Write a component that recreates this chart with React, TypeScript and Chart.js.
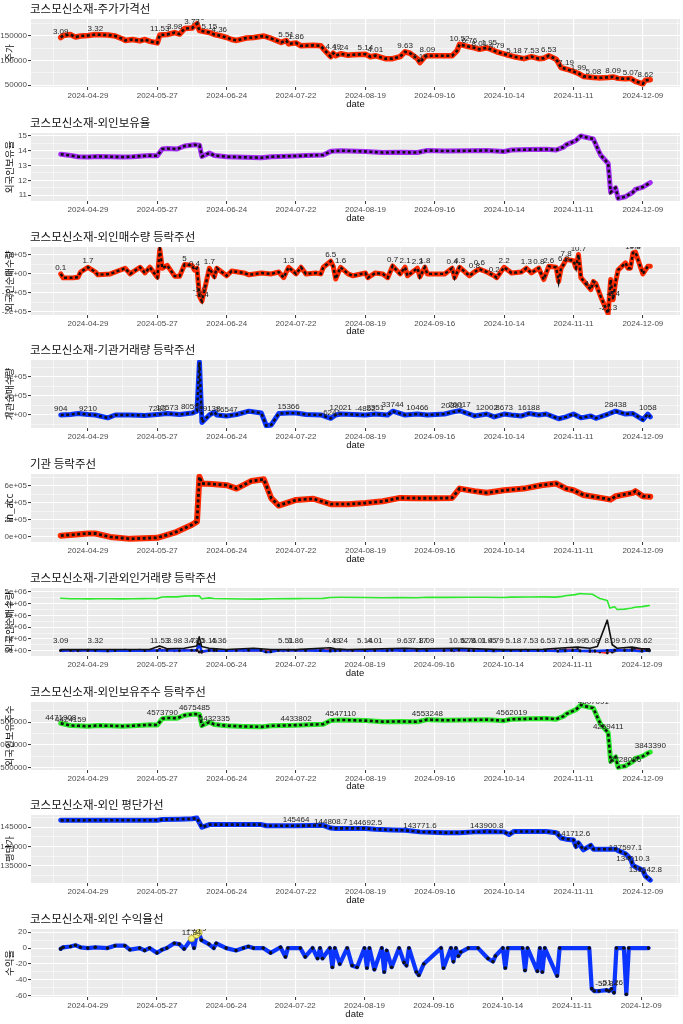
import React, { useEffect, useRef } from 'react';
import { Chart, registerables } from 'chart.js';

Chart.register(...registerables);

const FONT = '"Liberation Sans", "Noto Sans CJK KR", sans-serif';
const KFONT = '"Noto Sans CJK KR", "Liberation Sans", sans-serif';

// ---------- shared x axis ----------
const xTickLabels = ['2024-04-29', '2024-05-27', '2024-06-24', '2024-07-22', '2024-08-19', '2024-09-16', '2024-10-14', '2024-11-11', '2024-12-09'];

// ---------- panel 1: price ----------
const priceDates = [
  '04-18', '04-19', '04-22', '04-23', '04-24', '04-26', '04-29', '05-02', '05-07', '05-10',
  '05-13', '05-14', '05-17', '05-20', '05-22', '05-24', '05-27', '05-28', '05-31', '06-03',
  '06-05', '06-07', '06-10', '06-12', '06-13', '06-14', '06-17', '06-19', '06-21', '06-24',
  '06-26', '06-28', '07-02', '07-05', '07-09', '07-12', '07-16', '07-18', '07-19', '07-22',
  '07-24', '07-29', '08-01', '08-02', '08-05', '08-06', '08-07', '08-09', '08-12', '08-14',
  '08-19', '08-21', '08-23', '08-27', '08-30', '09-02', '09-04', '09-06', '09-09', '09-10',
  '09-12', '09-13', '09-19', '09-23', '09-24', '09-25', '09-26', '09-30', '10-02', '10-04',
  '10-07', '10-08', '10-11', '10-15', '10-18', '10-22', '10-25', '10-28', '10-30', '11-01',
  '11-04', '11-06', '11-08', '11-11', '11-13', '11-15', '11-19', '11-21', '11-25', '11-27',
  '11-29', '12-02', '12-04', '12-06', '12-09', '12-10', '12-12',
];
const priceValues = [
  147000, 151000, 153000, 150000, 148000, 150000, 151000, 153000, 152000, 150000,
  144000, 141000, 143000, 140000, 143000, 139000, 136000, 152000, 153000, 157000,
  154000, 165000, 166000, 175000, 161000, 160000, 157000, 153000, 151000, 147000,
  143000, 141000, 146000, 147000, 150000, 145000, 137000, 141000, 134000, 136000,
  130000, 131000, 130000, 124000, 108000, 115000, 110000, 114000, 111000, 112000,
  113000, 108000, 110000, 104000, 104000, 108000, 118000, 115000, 104000, 96000,
  108000, 110000, 110000, 110000, 115000, 120000, 133000, 128000, 126000, 123000,
  126000, 124000, 118000, 112000, 108000, 104000, 108000, 104000, 105000, 110000,
  103000, 86000, 83000, 78000, 74000, 68000, 66000, 65000, 66000, 67000,
  64000, 63000, 64000, 58000, 53000, 60000, 61000,
];
const priceLabelDates = ['04-18', '05-02', '05-28', '06-03', '06-10', '06-12', '06-17', '06-21', '07-18', '07-22', '08-06', '08-09', '08-19', '08-23', '09-04', '09-10', '09-13', '09-26', '09-30', '10-04', '10-08', '10-11', '10-18', '10-25', '11-01', '11-08', '11-13', '11-19', '11-27', '12-04', '12-10'];
const priceLabelTexts = ['3.09', '3.32', '11.53', '3.98', '3.73', '4.40', '5.15', '4.36', '5.51', '1.86', '4.49', '1.24', '5.14', '4.01', '9.63', '7.17', '8.09', '10.52', '6.76', '8.01', '1.95', '4.79', '5.18', '7.53', '6.53', '7.19', '1.99', '5.08', '8.09', '5.07', '8.62'];

// ---------- panel 2 & 7: foreign holdings ----------
const holdDates = [
  '04-18', '04-22', '04-25', '04-29', '05-03', '05-08', '05-13', '05-17', '05-21', '05-24',
  '05-27', '05-29', '05-31', '06-04', '06-07', '06-11', '06-13', '06-14', '06-17', '06-19',
  '06-24', '07-01', '07-08', '07-12', '07-22', '07-26', '08-02', '08-05', '08-09', '08-19',
  '08-26', '09-02', '09-09', '09-13', '09-20', '09-30', '10-07', '10-14', '10-17', '10-24',
  '10-31', '11-04', '11-07', '11-08', '11-12', '11-14', '11-15', '11-19', '11-21', '11-22',
  '11-25', '11-26', '11-27', '11-28', '11-29', '12-02', '12-03', '12-05', '12-06', '12-09',
  '12-11', '12-12',
];
const holdRatio = [
  13.77, 13.68, 13.6, 13.58, 13.62, 13.6, 13.58, 13.6, 13.65, 13.68,
  13.66, 14.12, 14.15, 14.12, 14.32, 14.4, 14.38, 13.62, 13.85, 13.68,
  13.6, 13.56, 13.53, 13.6, 13.65, 13.68, 13.72, 13.96, 14.0, 13.95,
  13.88, 13.9, 13.88, 14.02, 13.98, 14.0, 14.02, 13.95, 14.05, 14.08,
  14.1, 14.05, 14.25, 14.4, 14.7, 15.0, 14.95, 14.8, 14.05, 13.7,
  13.14, 11.2, 11.35, 11.5, 10.8, 10.9, 11.0, 11.2, 11.4, 11.55,
  11.75, 11.85,
];
const holdShares = [
  4471908, 4424159, 4418000, 4410000, 4424000, 4418000, 4410000, 4418000, 4432000, 4440000,
  4437000, 4573790, 4590000, 4585000, 4650000, 4675485, 4668000, 4423000, 4500000, 4445000,
  4420000, 4404000, 4395000, 4418000, 4433000, 4440000, 4455000, 4535000, 4547000, 4532000,
  4509000, 4515000, 4508000, 4553000, 4540000, 4547000, 4553000, 4531000, 4562000, 4572000,
  4580000, 4563000, 4628000, 4675000, 4773000, 4872000, 4856000, 4807091, 4562000, 4450000,
  4269411, 3640000, 3686000, 3735000, 3510000, 3540000, 3573000, 3640000, 3703000, 3752000,
  3817000, 3843390,
];
const sharesLabelDates = ['04-18', '04-22', '05-29', '06-11', '06-19', '07-22', '08-09', '09-13', '10-17', '11-14', '11-19', '11-25', '12-02', '12-12'];
const sharesLabelTexts = ['4471908', '4424159', '4573790', '4675485', '4432335', '4433802', '4547110', '4553248', '4562019', '4872200', '4807091', '4269411', '3728086', '3843390'];

// ---------- panel 3: foreign net buy ----------
const foreignDates = [
  '04-18', '04-19', '04-23', '04-25', '04-26', '04-29', '05-02', '05-03', '05-08', '05-14',
  '05-16', '05-20', '05-22', '05-24', '05-27', '05-28', '05-29', '05-31', '06-03', '06-05',
  '06-07', '06-10', '06-11', '06-12', '06-13', '06-14', '06-17', '06-19', '06-20', '06-24',
  '06-26', '07-01', '07-03', '07-08', '07-12', '07-15', '07-17', '07-19', '07-22', '07-24',
  '07-26', '07-30', '08-01', '08-02', '08-05', '08-06', '08-07', '08-09', '08-12', '08-14',
  '08-19', '08-20', '08-23', '08-26', '08-28', '08-30', '09-02', '09-04', '09-05', '09-09',
  '09-10', '09-12', '09-13', '09-20', '09-23', '09-24', '09-26', '09-30', '10-02', '10-04',
  '10-07', '10-10', '10-11', '10-14', '10-17', '10-21', '10-23', '10-25', '10-28', '10-29',
  '10-30', '11-01', '11-04', '11-05', '11-06', '11-07', '11-08', '11-11', '11-12', '11-13',
  '11-14', '11-18', '11-19', '11-20', '11-22', '11-25', '11-26', '11-27', '11-28', '11-29',
  '12-02', '12-03', '12-04', '12-05', '12-06', '12-09', '12-11', '12-12',
];
const foreignNet = [
  0, -21000, -20000, -18000, 10000, 35000, 10000, -5000, 0, 30000,
  0, 35000, 5000, 35000, -18000, 130000, 30000, 45000, -12000, -12000,
  50000, 45000, 20000, 30000, -118000, -144000, 30000, -15000, 30000, -10000,
  15000, 5000, -5000, 5000, 0, 10000, -20000, 35000, 0, 35000,
  0, 5000, 0, 35000, 67000, 40000, -27000, 35000, 0, -10000,
  5000, -20000, 5000, 0, -20000, 42000, 0, 35000, -10000, 30000,
  -15000, 35000, 0, 0, 30000, -20000, 35000, -10000, 10000, 25000,
  10000, -10000, -20000, 35000, 5000, 10000, 30000, 5000, 30000, 0,
  -30000, 40000, 35000, -40000, 30000, 50000, 76000, 70000, 32000, 102000,
  -20000, -83000, -40000, -50000, -120000, -210000, -30000, -136000, -40000, 20000,
  58000, 30000, 30000, 111000, 115000, 0, 40000, 40000,
];
const foreignLabelDates = ['04-18', '04-29', '06-07', '06-11', '06-13', '06-14', '06-17', '07-19', '08-05', '08-09', '08-30', '09-04', '09-09', '09-12', '09-23', '09-26', '10-02', '10-04', '10-10', '10-14', '10-23', '10-28', '11-01', '11-07', '11-08', '11-13', '11-18', '11-25', '11-27', '12-05', '12-06'];
const foreignLabelTexts = ['0.1', '1.7', '5', '0.4', '-1.9', '-5.4', '1.7', '1.3', '6.5', '1.6', '0.7', '2.1', '2.3', '1.8', '0.4', '4.3', '0.8', '0.6', '0.2', '2.2', '1.3', '0.8', '2.6', '6.8', '7.8', '10.7', '1.7', '-21.3', '-5.4', '10.8', '6.5'];

// ---------- panel 4: institution net buy ----------
const instDates = [
  '04-18', '04-22', '04-25', '04-29', '05-02', '05-07', '05-10', '05-16', '05-22', '05-27',
  '05-31', '06-05', '06-10', '06-12', '06-13', '06-14', '06-17', '06-19', '06-20', '06-24',
  '06-28', '07-03', '07-08', '07-10', '07-12', '07-15', '07-19', '07-22', '07-26', '08-01',
  '08-05', '08-07', '08-09', '08-14', '08-19', '08-23', '08-28', '08-30', '09-04', '09-09',
  '09-13', '09-20', '09-23', '09-26', '09-30', '10-02', '10-07', '10-10', '10-14', '10-17',
  '10-21', '10-24', '10-28', '10-31', '11-05', '11-08', '11-11', '11-14', '11-18', '11-20',
  '11-25', '11-28', '12-02', '12-05', '12-09', '12-11', '12-12',
];
const instNet = [
  0, 5000, 15000, 5000, 0, -30000, 0, 0, -5000, 5000,
  15000, 5000, 20000, 40000, 557000, -78000, 0, 30000, 0, -10000,
  5000, 40000, 20000, -113000, -105000, 15000, 20000, 20000, 5000, 0,
  -35000, 0, 10000, 5000, 0, 10000, 0, 40000, 0, 10000,
  0, 10000, 30000, 45000, 10000, -10000, 10000, -20000, 10000, 0,
  -10000, 15000, 0, 10000, -40000, -20000, 10000, -30000, -10000, -35000,
  10000, 40000, 10000, 15000, -50000, 10000, -20000,
];
const instLabelDates = ['04-18', '04-29', '05-27', '05-31', '06-10', '06-17', '06-24', '07-19', '08-05', '08-09', '08-19', '08-23', '08-30', '09-09', '09-23', '09-26', '10-07', '10-14', '10-24', '11-28', '12-11'];
const instLabelTexts = ['904', '9210', '7283', '12573', '80597', '69138', '16547', '15366', '-6241', '12021', '-4852', '2351', '33744', '10466', '20391', '26017', '12002', '8673', '16188', '28438', '1058'];

// ---------- panel 5: institution cumulative ----------
const instAccDates = [
  '04-18', '04-29', '05-02', '05-08', '05-16', '05-27', '06-03', '06-10', '06-12', '06-13',
  '06-14', '06-18', '06-24', '06-28', '07-04', '07-09', '07-12', '07-15', '07-22', '07-29',
  '08-05', '08-12', '08-19', '08-26', '09-02', '09-09', '09-16', '09-23', '09-26', '10-02',
  '10-07', '10-14', '10-22', '10-29', '11-04', '11-08', '11-11', '11-15', '11-22', '11-26',
  '11-28', '12-05', '12-06', '12-09', '12-12',
];
const instAcc = [
  15000, 40000, 40000, 0, -23000, -10000, 50000, 144000, 180000, 710000,
  630000, 625000, 610000, 570000, 660000, 680000, 456000, 370000, 436000, 450000,
  386000, 386000, 400000, 420000, 460000, 456000, 456000, 460000, 570000, 540000,
  520000, 550000, 570000, 610000, 630000, 570000, 550000, 495000, 460000, 440000,
  480000, 520000, 540000, 480000, 475000,
];

// ---------- panel 6: volume ----------
const volumeDates = [
  '04-18', '05-02', '05-24', '05-28', '05-31', '06-07', '06-12', '06-13', '06-14', '06-17',
  '06-24', '07-05', '07-12', '07-22', '08-05', '08-07', '08-12', '09-04', '09-10', '09-26',
  '10-14', '10-30', '11-08', '11-13', '11-18', '11-21', '11-25', '11-27', '11-29', '12-05',
  '12-09', '12-12',
];
const volumeValues = [
  80000, 90000, 90000, 400000, 150000, 200000, 400000, 1170000, 350000, 200000,
  100000, 200000, 100000, 80000, 250000, 150000, 80000, 200000, 150000, 200000,
  80000, 120000, 250000, 300000, 200000, 350000, 2600000, 500000, 200000, 300000,
  150000, 150000,
];

// ---------- panel 8: foreign average price ----------
const avgDates = [
  '04-18', '05-27', '05-29', '06-05', '06-10', '06-12', '06-14', '06-17', '07-08', '07-10',
  '07-22', '08-02', '08-05', '08-07', '08-19', '08-23', '08-30', '09-04', '09-10', '09-20',
  '09-26', '10-02', '10-07', '10-14', '10-16', '10-18', '10-31', '11-04', '11-06', '11-08',
  '11-11', '11-12', '11-13', '11-15', '11-18', '11-19', '11-28', '11-29', '12-02', '12-04',
  '12-05', '12-06', '12-09', '12-10', '12-12',
];
const avgPrice = [
  146800, 146850, 147000, 147100, 147200, 147400, 145000, 145700, 145700, 145400,
  145400, 145500, 144800, 144700, 144700, 144500, 144300, 144200, 143800, 143600,
  143600, 143800, 143900, 143800, 143100, 143900, 143900, 143600, 142200, 141900,
  141700, 140000, 140900, 139100, 140300, 139300, 139300, 138900, 138100, 136800,
  135100, 134700, 133800, 132300, 131200,
];
const avgLabelDates = ['06-12', '07-22', '08-05', '08-19', '09-10', '10-07', '11-11', '12-02', '12-05', '12-10'];
const avgLabelTexts = ['147431.2', '145464', '144808.7', '144692.5', '143771.6', '143900.8', '141712.6', '137597.1', '134010.3', '131642.8'];

// ---------- panel 9: foreign return ----------
const retDates = [
  '04-18', '04-19', '04-22', '04-24', '04-26', '04-29', '05-02', '05-07', '05-10', '05-14',
  '05-16', '05-20', '05-22', '05-24', '05-27', '05-29', '05-31', '06-03', '06-05', '06-07',
  '06-10', '06-11', '06-12', '06-13', '06-14', '06-17', '06-19', '06-20', '06-24', '06-28',
  '07-01', '07-03', '07-05', '07-09', '07-12', '07-16', '07-18', '07-19', '07-24', '07-26',
  '07-29', '07-31', '08-01', '08-02', '08-05', '08-06', '08-07', '08-09', '08-12', '08-14',
  '08-16', '08-19', '08-20', '08-21', '08-23', '08-26', '08-27', '08-28', '08-30', '09-02',
  '09-04', '09-05', '09-06', '09-09', '09-10', '09-12', '09-19', '09-20', '09-23', '09-24',
  '09-25', '09-26', '09-27', '09-30', '10-04', '10-08', '10-10', '10-11', '10-14', '10-15',
  '10-16', '10-22', '10-23', '10-24', '10-28', '10-29', '10-30', '10-31', '11-05', '11-06',
  '11-18', '11-19', '11-20', '11-22', '11-25', '11-26', '11-27', '11-28', '11-29', '12-02',
  '12-03', '12-04', '12-12',
];
const retValues = [
  -1, 1, 2, 3.5, 1, 0, 1, 0, 3, 3,
  -2, 0, -3, 0, -6, -2, 0, 6, 5, -1,
  11.94, 0, 16.5, 19.5, 10, 5, 0, 6, 0, -3,
  0, 2, 0, 0, -6, 1, -11, 0, 0, -11,
  0, -13, 0, -13, 0, -24, 0, -20, 0, -22,
  -24, 0, -25, 0, -27, 0, -30, -3, -24, 0,
  -18, -22, 0, -30, -34, -20, 0, -25, 0, -17,
  0, -10, -5, 0, 0, -13, -17, -10, 0, -25,
  0, 0, -28, 0, -29, 0, -30, 0, -35, 0,
  0, -51, -54, -54, -52.84, -54, -51.26, -56, 0, 0,
  -58, 0, 0,
];
const retLabelDates = ['06-10', '06-12', '11-25', '11-27'];
const retLabelTexts = ['11.94', '13.79', '-52.84', '-51.26'];

// ---------- y axes ----------
const p1YTicks = [50000, 100000, 150000];
const p1YLabels = ['50000', '100000', '150000'];
const p2YTicks = [11, 12, 13, 14, 15];
const p2YLabels = ['11', '12', '13', '14', '15'];
const p3YTicks = [-200000, -100000, 0, 100000];
const p3YLabels = ['-2e+05', '-1e+05', '0e+00', '1e+05'];
const p4YTicks = [0, 200000, 400000];
const p4YLabels = ['0e+00', '2e+05', '4e+05'];
const p5YTicks = [0, 200000, 400000, 600000];
const p5YLabels = ['0e+00', '2e+05', '4e+05', '6e+05'];
const p6YTicks = [0, 1000000, 2000000, 3000000, 4000000, 5000000];
const p6YLabels = ['0e+00', '1e+06', '2e+06', '3e+06', '4e+06', '5e+06'];
const p7YTicks = [3500000, 4000000, 4500000];
const p7YLabels = ['3500000', '4000000', '4500000'];
const p8YTicks = [135000, 140000, 145000];
const p8YLabels = ['135000', '140000', '145000'];
const p9YTicks = [-60, -40, -20, 0, 20];
const p9YLabels = ['-60', '-40', '-20', '0', '20'];

// ---------- helpers ----------
const BASE = Date.UTC(2024, 3, 29);
function dayOf(s: string): number {
  const p = s.split('-').map(Number);
  const [y, m, d] = p.length === 3 ? p : [2024, p[0], p[1]];
  return (Date.UTC(y, m - 1, d) - BASE) / 86400000;
}
const X_MIN = -23;
const X_MAX = 239;

function withMinors(majors: number[], min: number, max: number): number[] {
  const out: number[] = [];
  const step = majors.length > 1 ? majors[1] - majors[0] : 1;
  const first = majors[0] - step / 2;
  if (first > min) out.push(first);
  majors.forEach((v, i) => {
    out.push(v);
    const next = i < majors.length - 1 ? (v + majors[i + 1]) / 2 : v + step / 2;
    if (next < max) out.push(next);
  });
  return out.filter((v) => v > min && v < max);
}

type Series = {
  dates: string[];
  values: number[];
  color: string;
  width: number;
  dash?: number;
  dots?: number;
  yellowAbove?: number;
};
type LabelSpec = { series: number; dates: string[]; texts: string[]; yConst?: number };
type PanelCfg = {
  title: string;
  yTitle: string;
  yMin: number;
  yMax: number;
  yTicks: number[];
  yLabels: string[];
  series: Series[];
  labels?: LabelSpec[];
};

const RED = '#ff2a00';
const BLUE = '#0c34ff';
const PURPLE = '#a32cf2';
const GREEN = '#2ee82e';

const panels: PanelCfg[] = [
  {
    title: '코스모신소재-주가가격선', yTitle: '주가', yMin: 46500, yMax: 184500,
    yTicks: p1YTicks, yLabels: p1YLabels,
    series: [{ dates: priceDates, values: priceValues, color: RED, width: 5.5, dash: 2.6 }],
    labels: [{ series: 0, dates: priceLabelDates, texts: priceLabelTexts }],
  },
  {
    title: '코스모신소재-외인보유율', yTitle: '외국인보유율', yMin: 10.61, yMax: 15.2,
    yTicks: p2YTicks, yLabels: p2YLabels,
    series: [{ dates: holdDates, values: holdRatio, color: PURPLE, width: 5, dash: 2.6 }],
  },
  {
    title: '코스모신소재-외인매수량 등락주선', yTitle: '외국인순매수량', yMin: -217000, yMax: 142000,
    yTicks: p3YTicks, yLabels: p3YLabels,
    series: [{ dates: foreignDates, values: foreignNet, color: RED, width: 5, dash: 2.4 }],
    labels: [{ series: 0, dates: foreignLabelDates, texts: foreignLabelTexts }],
  },
  {
    title: '코스모신소재-기관거래량 등락주선', yTitle: '기관순매수량', yMin: -137000, yMax: 579000,
    yTicks: p4YTicks, yLabels: p4YLabels,
    series: [{ dates: instDates, values: instNet, color: BLUE, width: 5, dash: 2.4 }],
    labels: [{ series: 0, dates: instLabelDates, texts: instLabelTexts }],
  },
  {
    title: '기관 등락주선', yTitle: 'in_acc', yMin: -60000, yMax: 742000,
    yTicks: p5YTicks, yLabels: p5YLabels,
    series: [{ dates: instAccDates, values: instAcc, color: RED, width: 6, dash: 2.8 }],
  },
  {
    title: '코스모신소재-기관외인거래량 등락주선', yTitle: '외국인순매수량', yMin: -460000, yMax: 5340000,
    yTicks: p6YTicks, yLabels: p6YLabels,
    series: [
      { dates: holdDates, values: holdShares, color: GREEN, width: 1.6 },
      { dates: foreignDates, values: foreignNet, color: '#ff3030', width: 2, dots: 1.4 },
      { dates: instDates, values: instNet, color: BLUE, width: 2.6, dots: 1.4 },
      { dates: volumeDates, values: volumeValues, color: '#111111', width: 1.6 },
    ],
    labels: [{ series: 3, dates: priceLabelDates, texts: priceLabelTexts, yConst: 330000 }],
  },
  {
    title: '코스모신소재-외인보유주수 등락주선', yTitle: '외국인보유주수', yMin: 3450000, yMax: 4940000,
    yTicks: p7YTicks, yLabels: p7YLabels,
    series: [{ dates: holdDates, values: holdShares, color: GREEN, width: 5, dash: 2.6 }],
    labels: [{ series: 0, dates: sharesLabelDates, texts: sharesLabelTexts }],
  },
  {
    title: '코스모신소재-외인 평단가선', yTitle: '평단가', yMin: 130470, yMax: 148200,
    yTicks: p8YTicks, yLabels: p8YLabels,
    series: [{ dates: avgDates, values: avgPrice, color: BLUE, width: 5, dash: 2.6 }],
    labels: [{ series: 0, dates: avgLabelDates, texts: avgLabelTexts }],
  },
  {
    title: '코스모신소재-외인 수익율선', yTitle: '수익율', yMin: -61.5, yMax: 24,
    yTicks: p9YTicks, yLabels: p9YLabels,
    series: [{ dates: retDates, values: retValues, color: BLUE, width: 4.2, dots: 1.8, yellowAbove: 10 }],
    labels: [{ series: 0, dates: retLabelDates, texts: retLabelTexts }],
  },
];

const PANEL_TOPS = [0, 114, 228, 341, 455, 569, 683, 796, 910, 1024];

function gridOpts(majors: Set<number>) {
  return {
    color: '#ffffff',
    lineWidth: (c: any) => (c.tick && majors.has(c.tick.value) ? 1.1 : 0.5),
    drawTicks: true,
    tickLength: 3,
    tickWidth: 1,
    tickColor: (c: any) => (c.tick && majors.has(c.tick.value) ? '#333333' : 'rgba(0,0,0,0)'),
  };
}

function buildConfig(cfg: PanelCfg, H: number): any {
  const datasets: any[] = [];
  let order = 0;
  const seriesData = cfg.series.map((s) => s.dates.map((d, i) => ({ x: dayOf(d), y: s.values[i] })));
  cfg.series.forEach((s, k) => {
    const data = seriesData[k];
    datasets.push({
      data, borderColor: s.color, borderWidth: s.width, pointRadius: 0,
      borderJoinStyle: 'round', borderCapStyle: 'round', fill: false, order: --order,
    });
    if (s.dash) {
      datasets.push({
        data, borderColor: '#111111', borderWidth: s.dash, borderDash: [3, 2.5],
        pointRadius: 0, fill: false, order: --order,
      });
    }
    if (s.dots) {
      datasets.push({
        data, showLine: false, pointRadius: s.dots, pointBackgroundColor: '#111111',
        pointBorderWidth: 0, order: --order,
      });
    }
    if (s.yellowAbove !== undefined) {
      const lim = s.yellowAbove;
      datasets.push({
        data: data.filter((p) => p.y > lim), showLine: false, pointRadius: 3.2,
        pointBackgroundColor: '#f6f27e', pointBorderColor: '#a89a2a', pointBorderWidth: 0.8,
        order: --order,
      });
    }
  });

  const xMajors = xTickLabels.map(dayOf);
  const xMajorSet = new Set(xMajors);
  const xAll = withMinors(xMajors, X_MIN, X_MAX);
  const xLabelMap = new Map(xMajors.map((v, i) => [v, xTickLabels[i]] as [number, string]));

  const yMajorSet = new Set(cfg.yTicks);
  const yAll = withMinors(cfg.yTicks, cfg.yMin, cfg.yMax);
  const yLabelMap = new Map(cfg.yTicks.map((v, i) => [v, cfg.yLabels[i]] as [number, string]));

  const bgPlugin = {
    id: 'bgPanel',
    beforeDraw(chart: any) {
      const { ctx, chartArea: a } = chart;
      ctx.save();
      ctx.fillStyle = '#EBEBEB';
      ctx.fillRect(a.left, a.top, a.right - a.left, a.bottom - a.top);
      ctx.restore();
    },
  };

  const textPlugin = {
    id: 'textPanel',
    afterDatasetsDraw(chart: any) {
      if (!cfg.labels) return;
      const { ctx, chartArea: a } = chart;
      const xs = chart.scales.x;
      const ys = chart.scales.y;
      ctx.save();
      ctx.beginPath();
      ctx.rect(a.left, a.top, a.right - a.left, a.bottom - a.top);
      ctx.clip();
      ctx.font = '8px ' + FONT;
      ctx.fillStyle = '#262626';
      ctx.textAlign = 'center';
      ctx.textBaseline = 'bottom';
      cfg.labels.forEach((lab) => {
        const s = cfg.series[lab.series];
        lab.dates.forEach((d, i) => {
          const idx = s.dates.indexOf(d);
          let v: number;
          if (lab.yConst !== undefined) v = lab.yConst;
          else if (idx >= 0) v = s.values[idx];
          else return;
          const px = xs.getPixelForValue(dayOf(d));
          const py = ys.getPixelForValue(v) - 2;
          ctx.fillText(lab.texts[i], px, py);
        });
      });
      ctx.restore();
    },
    afterDraw(chart: any) {
      const { ctx, chartArea: a } = chart;
      ctx.save();
      ctx.fillStyle = '#111111';
      ctx.font = '11.5px ' + KFONT;
      ctx.textAlign = 'left';
      ctx.textBaseline = 'middle';
      ctx.fillText(cfg.title, 30, 8.5);
      ctx.translate(9, (a.top + a.bottom) / 2);
      ctx.rotate(-Math.PI / 2);
      ctx.textAlign = 'center';
      ctx.font = '9.5px ' + KFONT;
      ctx.fillText(cfg.yTitle, 0, 0);
      ctx.restore();
    },
  };

  return {
    type: 'line',
    data: { datasets },
    options: {
      responsive: false,
      animation: false,
      devicePixelRatio: 1,
      layout: { padding: { top: 19, right: 3, bottom: 3, left: 0 } },
      plugins: { legend: { display: false }, tooltip: { enabled: false }, title: { display: false } },
      scales: {
        x: {
          type: 'linear',
          min: X_MIN,
          max: X_MAX,
          afterFit: (s: any) => { s.height = H - 87 - 3; },
          afterBuildTicks: (s: any) => { s.ticks = xAll.map((v) => ({ value: v })); },
          ticks: {
            autoSkip: false, maxRotation: 0, padding: 1, color: '#4D4D4D',
            font: { size: 8, family: FONT },
            callback: (v: any) => xLabelMap.get(Number(v)) ?? '',
          },
          grid: gridOpts(xMajorSet),
          border: { display: false },
          title: { display: true, text: 'date', color: '#111111', font: { size: 9.5, family: FONT }, padding: { top: 0, bottom: 1 } },
        },
        y: {
          type: 'linear',
          min: cfg.yMin,
          max: cfg.yMax,
          afterFit: (s: any) => { s.width = 31; },
          afterBuildTicks: (s: any) => { s.ticks = yAll.map((v) => ({ value: v })); },
          ticks: {
            autoSkip: false, padding: 1, color: '#4D4D4D',
            font: { size: 8, family: FONT },
            callback: (v: any) => yLabelMap.get(Number(v)) ?? '',
          },
          grid: gridOpts(yMajorSet),
          border: { display: false },
        },
      },
    },
    plugins: [bgPlugin, textPlugin],
  };
}

function Panel({ cfg, top, height }: { cfg: PanelCfg; top: number; height: number }) {
  const ref = useRef<HTMLCanvasElement>(null);
  useEffect(() => {
    const canvas = ref.current;
    if (!canvas) return;
    const chart = new Chart(canvas, buildConfig(cfg, height));
    return () => chart.destroy();
  }, [cfg, height]);
  return (
    <div style={{ position: 'absolute', left: 0, top, width: 683, height }}>
      <canvas ref={ref} width={683} height={height} style={{ display: 'block', width: 683, height }} />
    </div>
  );
}

export default function App() {
  useEffect(() => {
    document.body.style.margin = '0';
    document.body.style.background = '#ffffff';
  }, []);
  return (
    <div style={{ position: 'relative', width: 683, height: 1024, background: '#ffffff', overflow: 'hidden' }}>
      {panels.map((cfg, i) => (
        <Panel key={i} cfg={cfg} top={PANEL_TOPS[i]} height={PANEL_TOPS[i + 1] - PANEL_TOPS[i]} />
      ))}
    </div>
  );
}
